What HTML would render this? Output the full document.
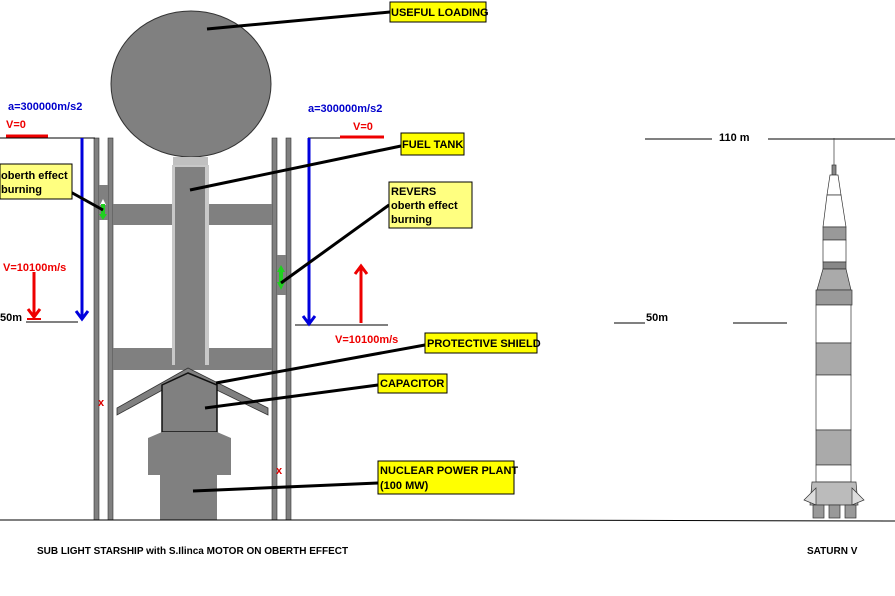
<!DOCTYPE html>
<html><head><meta charset="utf-8"><style>
body{margin:0;background:#fff;}
svg{display:block;font-family:"Liberation Sans",Arial,sans-serif;font-weight:bold;}
</style></head><body>
<svg width="895" height="596" viewBox="0 0 895 596" xmlns="http://www.w3.org/2000/svg">
<rect width="895" height="596" fill="#fff"/>
<defs>
<marker id="bh" markerWidth="6" markerHeight="6" refX="3" refY="5" orient="auto" markerUnits="userSpaceOnUse"></marker>
</defs>
<!-- rails -->
<g fill="#808080" stroke="#333" stroke-width="0.6">
<rect x="94" y="138" width="5" height="382"/>
<rect x="108" y="138" width="5" height="382"/>
<rect x="272" y="138" width="5" height="382"/>
<rect x="286" y="138" width="5" height="382"/>
</g>
<!-- crossbars -->
<rect x="113" y="204" width="159" height="21" fill="#808080"/>
<rect x="113" y="348" width="159" height="22" fill="#808080"/>
<!-- sphere -->
<ellipse cx="191" cy="84" rx="80" ry="73" fill="#808080" stroke="#333" stroke-width="1"/>
<!-- neck and tank -->
<rect x="173" y="157" width="35" height="10" fill="#c0c0c0"/>
<rect x="172" y="165" width="37" height="200" fill="#c8c8c8"/>
<rect x="175" y="167" width="30" height="200" fill="#808080"/>
<!-- shield -->
<polygon points="188,368 117,408 117,415 188,376 268,415 268,408" fill="#808080" stroke="#333" stroke-width="0.8"/>
<!-- capacitor -->
<polygon points="162,385 188,373 217,385 217,432 162,432" fill="#808080" stroke="#111" stroke-width="1.5"/>
<!-- power plant -->
<polygon points="162,432 217,432 231,438 231,475 217,475 217,520 160,520 160,475 148,475 148,438" fill="#808080"/>
<!-- capsules -->
<rect x="99" y="185" width="9" height="35" fill="#808080"/>
<rect x="277" y="255" width="9" height="40" fill="#808080"/>
<polygon points="103,199 106,205 100,205" fill="#fff"/>
<rect x="101" y="204" width="4" height="12" fill="#20d020"/>
<polygon points="99,214 107,214 103,220" fill="#20d020"/>
<rect x="279" y="270" width="4" height="14" fill="#20d020"/>
<polygon points="277,282 285,282 281,290" fill="#20d020"/>
<polygon points="277,272 285,272 281,265" fill="#20d020"/>
<text x="98" y="406" font-size="11" fill="#d00">x</text>
<text x="276" y="474" font-size="11" fill="#d00">x</text>
<!-- ground -->
<line x1="0" y1="520" x2="445" y2="520" stroke="#000" stroke-width="1"/>
<line x1="445" y1="520" x2="895" y2="521" stroke="#000" stroke-width="1"/>
<!-- level lines -->
<g stroke="#000" stroke-width="1">
<line x1="0" y1="138" x2="95" y2="138"/>
<line x1="308" y1="138" x2="383" y2="138"/>
<line x1="26" y1="322" x2="78" y2="322"/>
<line x1="295" y1="325" x2="388" y2="325"/>
<line x1="645" y1="139" x2="712" y2="139"/>
<line x1="768" y1="139" x2="895" y2="139"/>
<line x1="614" y1="323" x2="645" y2="323"/>
<line x1="733" y1="323" x2="787" y2="323"/>
</g>
<line x1="6" y1="136" x2="48" y2="136" stroke="#e00" stroke-width="3"/>
<line x1="340" y1="137" x2="384" y2="137" stroke="#e00" stroke-width="3"/>
<!-- blue arrows -->
<line x1="82" y1="138" x2="82" y2="318" stroke="#00d" stroke-width="3"/>
<polyline points="76,311 82,319 88,311" fill="none" stroke="#00d" stroke-width="3"/>
<line x1="309" y1="138" x2="309" y2="323" stroke="#00d" stroke-width="3"/>
<polyline points="303,316 309,324 315,316" fill="none" stroke="#00d" stroke-width="3"/>
<!-- red arrows -->
<line x1="34" y1="272" x2="34" y2="317" stroke="#e00" stroke-width="3"/>
<polyline points="28,309 34,317 40,309" fill="none" stroke="#e00" stroke-width="3"/>
<line x1="27" y1="319" x2="41" y2="319" stroke="#e00" stroke-width="2"/>
<line x1="361" y1="267" x2="361" y2="323" stroke="#e00" stroke-width="3"/>
<polyline points="355,274 361,266 367,274" fill="none" stroke="#e00" stroke-width="3"/>
<!-- texts -->
<g font-size="11">
<text x="8" y="110" fill="#00c">a=300000m/s2</text>
<text x="308" y="112" fill="#00c">a=300000m/s2</text>
<text x="6" y="128" fill="#e00">V=0</text>
<text x="353" y="130" fill="#e00">V=0</text>
<text x="3" y="271" fill="#e00">V=10100m/s</text>
<text x="335" y="343" fill="#e00">V=10100m/s</text>
<text x="0" y="321" fill="#000">50m</text>
<text x="646" y="321" fill="#000">50m</text>
<text x="719" y="141" fill="#000">110 m</text>
<text x="37" y="554" font-size="10" fill="#000">SUB LIGHT STARSHIP with S.Ilinca MOTOR ON OBERTH EFFECT</text>
<text x="807" y="554" font-size="10" fill="#000">SATURN V</text>
</g>
<!-- leaders -->
<g stroke="#000" stroke-width="3">
<line x1="207" y1="29" x2="390" y2="12"/>
<line x1="190" y1="190" x2="401" y2="146"/>
<line x1="281" y1="283" x2="389" y2="205"/>
<line x1="58" y1="185" x2="103" y2="210"/>
<line x1="216" y1="383" x2="425" y2="345"/>
<line x1="205" y1="408" x2="378" y2="385"/>
<line x1="193" y1="491" x2="378" y2="483"/>
</g>
<!-- label boxes -->
<g fill="#ffff00" stroke="#000" stroke-width="1">
<rect x="390" y="2" width="96" height="20"/>
<rect x="401" y="133" width="63" height="22"/>
<rect x="389" y="182" width="83" height="46" fill="#ffff80"/>
<rect x="0" y="164" width="72" height="35" fill="#ffff80"/>
<rect x="425" y="333" width="112" height="20"/>
<rect x="378" y="374" width="69" height="19"/>
<rect x="378" y="461" width="136" height="33"/>
</g>
<g font-size="11" fill="#000">
<text x="391" y="16">USEFUL LOADING</text>
<text x="402" y="148">FUEL TANK</text>
<text x="391" y="195">REVERS</text>
<text x="391" y="209">oberth effect</text>
<text x="391" y="223">burning</text>
<text x="1" y="179">oberth effect</text>
<text x="1" y="193">burning</text>
<text x="427" y="347">PROTECTIVE SHIELD</text>
<text x="380" y="387">CAPACITOR</text>
<text x="380" y="474">NUCLEAR POWER PLANT</text>
<text x="380" y="489">(100 MW)</text>
</g>
<!-- Saturn V -->
<g stroke="#333" stroke-width="0.7" fill="#fff">
<line x1="834" y1="138" x2="834" y2="165"/>
<rect x="832" y="165" width="4" height="10" fill="#888"/>
<polygon points="830,175 838,175 841,195 827,195"/>
<polygon points="827,195 841,195 846,227 823,227"/>
<rect x="823" y="227" width="23" height="13" fill="#999"/>
<rect x="823" y="240" width="23" height="22"/>
<rect x="823" y="262" width="23" height="7" fill="#888"/>
<polygon points="823,269 846,269 851,290 817,290" fill="#aaa"/>
<rect x="816" y="290" width="36" height="15" fill="#999"/>
<rect x="816" y="305" width="35" height="38"/>
<rect x="816" y="343" width="35" height="32" fill="#aaa"/>
<rect x="816" y="375" width="35" height="55"/>
<rect x="816" y="430" width="35" height="35" fill="#aaa"/>
<rect x="816" y="465" width="35" height="17"/>
<polygon points="812,482 856,482 858,505 810,505" fill="#bbb"/>
<polygon points="804,500 816,488 816,505" fill="#ddd"/>
<polygon points="864,500 852,488 852,505" fill="#ddd"/>
<rect x="813" y="505" width="11" height="13" fill="#999"/>
<rect x="829" y="505" width="11" height="13" fill="#999"/>
<rect x="845" y="505" width="11" height="13" fill="#999"/>
</g>
</svg>
</body></html>
